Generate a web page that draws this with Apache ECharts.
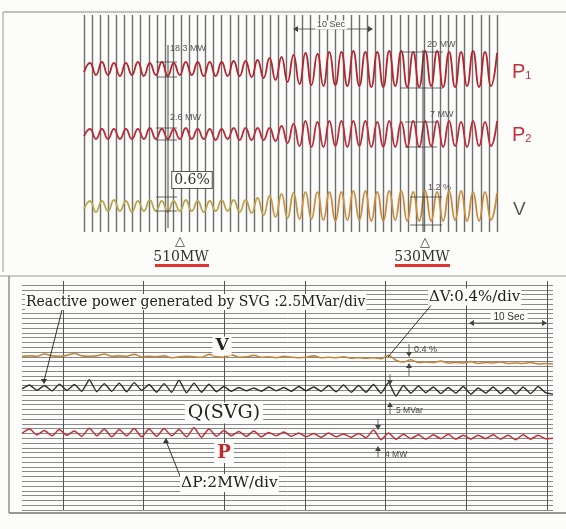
<!DOCTYPE html>
<html><head><meta charset="utf-8">
<script src="https://cdn.jsdelivr.net/npm/echarts@6/dist/echarts.min.js"></script>
<style>html,body{margin:0;padding:0;background:#fcfcfa}#c{width:566px;height:529px}</style>
</head><body><div id="c"></div>
<script>
// ---- Top record: oscillation peaks/troughs (chart units, 1 unit ~ 1 mm of paper), one value per half cycle
const topP1 = [-3, 6, -6, 7, -6, 6, -7, 6, -6, 7,
 -7, 6, -6, 7, -7, 6, -6, 7, -6, 7,
 -7, 7, -7, 7, -7, 8, -7, 8, -8, 9,
 -9, 11, -11, 12, -13, 14, -15, 16, -16, 15,
 -17, 17, -16, 17, -17, 18, -17, 17, -18, 17,
 -18, 18, -17, 18, -18, 17, -18, 18, -17, 18,
 -18, 17, -18, 17, -17, 18, -18, 17, -17, 16];
const topP2 = [-2, 5, -5, 5, -5, 5, -5, 5, -5, 5,
 -5, 6, -5, 5, -5, 5, -5, 6, -5, 5,
 -5, 5, -6, 5, -5, 6, -6, 6, -6, 6,
 -6, 6, -7, 8, -9, 10, -12, 13, -13, 12,
 -13, 13, -12, 13, -13, 13, -12, 13, -13, 12,
 -13, 13, -13, 12, -13, 13, -13, 13, -12, 13,
 -13, 13, -12, 12, -13, 13, -12, 12, -12, 13];
const topV = [-3, 5, -6, 5, -5, 6, -5, 5, -6, 5,
 -5, 6, -5, 5, -6, 5, -5, 6, -5, 5,
 -6, 5, -5, 6, -5, 6, -6, 6, -7, 8,
 -9, 10, -11, 12, -12, 13, -13, 14, -13, 14,
 -14, 14, -15, 14, -14, 15, -14, 15, -15, 14,
 -15, 15, -14, 15, -15, 14, -15, 15, -15, 14,
 -15, 15, -14, 15, -15, 14, -15, 14, -14, 13];
// ---- Bottom record (in chart divisions)
const botV = [32.1, 32.2, 32.1, 32.6, 32.2, 32.1, 32.3, 32.7, 32.2, 32.1,
 32.2, 32.6, 32.1, 32.2, 32.1, 32.5, 32.0, 32.1, 32.0, 32.2,
 31.8, 32.0, 32.1, 32.0, 31.9, 32.5, 32.0, 31.9, 32.4, 31.9,
 32.0, 32.3, 31.9, 32.0, 31.8, 32.1, 31.9, 31.8, 31.9, 32.2,
 31.8, 31.9, 31.8, 32.0, 31.7, 31.8, 31.7, 31.8, 31.6, 32.3,
 31.3, 30.9, 31.4, 30.8, 30.9, 30.8, 31.1, 30.7, 30.8, 30.7,
 31.0, 30.6, 30.8, 30.7, 30.9, 30.6, 30.7, 30.6, 30.8, 30.5,
 30.6, 30.5];
const botQ = [25.3, 26.1, 25.0, 26.0, 24.9, 26.3, 25.0, 26.2, 24.8, 27.2,
 24.7, 26.4, 24.8, 26.5, 24.7, 26.6, 25.0, 26.2, 24.6, 26.4,
 24.6, 27.1, 24.5, 26.5, 24.6, 26.3, 24.7,
 25.8, 24.8, 25.6, 24.9, 25.5, 24.8, 25.7, 24.9, 25.6, 24.8, 25.8, 24.9, 25.7, 24.8,
 26.0, 24.7, 26.1, 24.6, 26.0, 24.6, 26.2, 24.4, 26.6,
 23.8, 26.0, 24.4, 25.9, 24.5, 25.7, 24.3, 25.6, 24.4, 25.8,
 24.2, 25.5, 24.4, 25.7, 24.3, 25.6, 24.2, 25.7, 24.3, 25.8,
 24.5, 24.2];
const botP = [16.0, 16.9, 15.7, 16.6, 15.5, 16.8, 15.6, 16.5, 15.4, 17.1,
 15.5, 16.9, 15.3, 16.8, 15.5, 17.0, 15.3, 16.9, 15.4, 17.0,
 15.5, 16.8, 15.3, 17.2, 15.2, 16.9, 15.4, 16.6, 15.5, 16.4,
 15.4, 16.5, 15.3, 16.2, 15.5, 16.3,
 15.4, 16.1, 15.3, 16.0, 15.2, 16.1, 15.3, 15.9, 15.2, 16.0,
 15.1, 16.7, 14.7, 16.1,
 14.8, 15.8, 14.9, 15.7, 14.8, 15.7, 14.9, 15.8, 14.8, 15.6,
 14.8, 15.6, 14.9, 15.7, 14.8, 15.6, 14.7, 15.7, 14.8, 15.6,
 14.9, 15.0];
const topIdx = topP1.map((_, i) => i);
const botIdx = botQ.map((_, i) => i);

const SERIF = '"DejaVu Serif", "Liberation Serif", serif';
const SANS = '"Liberation Sans", Arial, sans-serif';
const G = [];
function ln(x1, y1, x2, y2, c, w) { G.push({type:'line', z:50, shape:{x1,y1,x2,y2}, style:{stroke:c||'#444', lineWidth:w||1}}); }
function tx(t, x, y, font, opt) { G.push({type:'text', z:60, style:Object.assign({text:t, x, y, font, fill:'#222', textVerticalAlign:'middle'}, opt||{})}); }
function arrowHead(x, y, dir, c) { // dir: 'u','d','l','r'
  const s = 3, pts = dir==='d' ? [[x-s,y-5],[x+s,y-5],[x,y]] : dir==='u' ? [[x-s,y+5],[x+s,y+5],[x,y]] : dir==='l' ? [[x+5,y-s],[x+5,y+s],[x,y]] : [[x-5,y-s],[x-5,y+s],[x,y]];
  G.push({type:'polygon', z:55, shape:{points:pts}, style:{fill:c||'#444'}});
}
// frame lines
ln(3, 12, 566, 12, '#888', 1.2);
ln(3, 12, 3, 272, '#999', 1);
ln(0, 276, 566, 276, '#999', 1.2);
ln(9, 276, 9, 513, '#777', 1.2);
ln(9, 513, 566, 513, '#777', 1.5);
// top annotations
tx('10 Sec', 331, 25, '9px ' + SANS, {textAlign:'center', fill:'#444', backgroundColor:'#fcfcfa', padding:[0,2]});
ln(294, 29, 371, 29, '#444', 0.8); arrowHead(293, 29, 'l'); arrowHead(373, 29, 'r');
ln(168, 45, 168, 228, '#444', 1);
[[62,77],[128,140],[197,211]].forEach(p => { ln(156, p[0], 177, p[0], '#444', 0.8); ln(156, p[1], 177, p[1], '#444', 0.8); });
tx('18.3 MW', 170, 49, '9px ' + SANS, {fill:'#555'});
tx('2.6 MW', 170, 118, '9px ' + SANS, {fill:'#555'});
tx('0.6%', 192, 180, '14px ' + SERIF, {textAlign:'center', fill:'#333', backgroundColor:'#fcfcfa', borderColor:'#555', borderWidth:1, padding:[1,2]});
ln(423, 50, 423, 232, '#444', 1);
[[52,88,400,443],[122,147,405,437],[197,225,410,442]].forEach(p => { ln(p[2], p[0], p[3], p[0], '#444', 0.8); ln(p[2], p[1], p[3], p[1], '#444', 0.8); });
tx('20 MW', 427, 45, '9px ' + SANS, {fill:'#555'});
tx('7 MW', 430, 115, '9px ' + SANS, {fill:'#555'});
tx('1.2 %', 428, 188, '9px ' + SANS, {fill:'#555'});
tx('△', 180, 242, '13px "DejaVu Sans"', {textAlign:'center', fill:'#444'});
tx('△', 425, 243, '13px "DejaVu Sans"', {textAlign:'center', fill:'#444'});
tx('510MW', 181, 257, '14px ' + SERIF, {textAlign:'center', fill:'#333'});
tx('530MW', 422, 257, '14px ' + SERIF, {textAlign:'center', fill:'#333'});
G.push({type:'rect', z:55, shape:{x:155, y:264, width:54, height:3}, style:{fill:'#e03535'}});
G.push({type:'rect', z:55, shape:{x:395, y:264, width:55, height:3}, style:{fill:'#e03535'}});
G.push({type:'text', z:60, style:{text:'{a|P}{b|1}', x:512, y:72, textVerticalAlign:'middle', rich:{a:{font:'20px ' + SANS, fill:'#c0303a'}, b:{font:'11px ' + SANS, fill:'#c0303a', padding:[8,0,0,0]}}}});
G.push({type:'text', z:60, style:{text:'{a|P}{b|2}', x:512, y:135, textVerticalAlign:'middle', rich:{a:{font:'20px ' + SANS, fill:'#c0303a'}, b:{font:'11px ' + SANS, fill:'#c0303a', padding:[8,0,0,0]}}}});
tx('V', 513, 210, '19px ' + SANS, {fill:'#555'});
// bottom annotations
tx('Reactive power generated by SVG :2.5MVar/div', 25, 302, '14px ' + SERIF, {backgroundColor:'#fcfcfa', padding:[1,1]});
tx('ΔV:0.4%/div', 428, 297, '15px ' + SERIF, {backgroundColor:'#fcfcfa', padding:[1,1]});
ln(62, 310, 44, 381, '#333', 1); arrowHead(44, 384, 'd', '#333');
ln(433, 303, 388, 357, '#333', 1);
tx('V', 222, 346, 'bold 17px ' + SERIF, {textAlign:'center', backgroundColor:'#fcfcfa', padding:[1,3]});
tx('0.4 %', 414, 350, '9px ' + SANS, {fill:'#444'});
ln(409, 344, 409, 355, '#444', 0.8); arrowHead(409, 357, 'd');
ln(409, 365, 409, 376, '#444', 0.8); arrowHead(409, 363, 'u');
tx('10 Sec', 509, 317, '10px ' + SANS, {textAlign:'center', fill:'#333', backgroundColor:'#fcfcfa', padding:[0,3]});
ln(470, 323, 546, 323, '#444', 0.8); arrowHead(469, 323, 'l'); arrowHead(547, 323, 'r');
tx('Q(SVG)', 224, 413, '19px ' + SERIF, {textAlign:'center', backgroundColor:'#fcfcfa', padding:[1,3]});
tx('5 MVar', 396, 411, '8.5px ' + SANS, {fill:'#444'});
ln(390, 374, 390, 383, '#444', 0.8); arrowHead(390, 385, 'd');
ln(390, 404, 390, 414, '#444', 0.8); arrowHead(390, 402, 'u');
tx('P', 224, 453, 'bold 18px ' + SERIF, {textAlign:'center', fill:'#c0282d', backgroundColor:'#fcfcfa', padding:[1,3]});
tx('4 MW', 385, 455, '8.5px ' + SANS, {fill:'#444'});
ln(378, 419, 378, 428, '#444', 0.8); arrowHead(378, 430, 'd');
ln(378, 448, 378, 457, '#444', 0.8); arrowHead(378, 446, 'u');
tx('ΔP:2MW/div', 180, 483, '15.5px ' + SERIF, {backgroundColor:'#fcfcfa', padding:[1,1]});
ln(180, 476, 166, 441, '#333', 1); arrowHead(166, 438, 'u', '#333');

const hidden = {show:false};
const gridAxis = (c, w) => ({axisLine:hidden, axisTick:hidden, axisLabel:hidden, splitLine:{show:true, lineStyle:{color:c, width:w}}});
const chart = echarts.init(document.getElementById('c'), null, {renderer:'canvas'});
chart.setOption({
  animation:false,
  backgroundColor:'#fcfcfa',
  grid:[
    {left:84, top:15, width:413, height:217},
    {left:22, top:285, width:531, height:225},
    {left:63, top:281, width:484, height:229}
  ],
  xAxis:[
    Object.assign({gridIndex:0, type:'value', min:0, max:51, interval:1}, gridAxis('#6e6e6e', 1.4)),
    {gridIndex:0, type:'category', data:topIdx, boundaryGap:false, show:false},
    {gridIndex:1, type:'category', data:botIdx, boundaryGap:false, show:false},
    Object.assign({gridIndex:2, type:'value', min:0, max:60, interval:10}, gridAxis('#555', 1))
  ],
  yAxis:[
    {gridIndex:0, type:'value', min:-163, max:54, show:false},
    {gridIndex:0, type:'value', min:-98, max:119, show:false},
    {gridIndex:0, type:'value', min:-26, max:191, show:false},
    Object.assign({gridIndex:1, type:'value', min:0, max:47, interval:1}, gridAxis('#7c7c7c', 0.9)),
    {gridIndex:2, type:'value', min:0, max:1, show:false}
  ],
  series:[
    {type:'line', xAxisIndex:1, yAxisIndex:0, data:topP1, smooth:0.5, symbol:'none', lineStyle:{color:'#b3262d', width:1.8}, z:5},
    {type:'line', xAxisIndex:1, yAxisIndex:1, data:topP2, smooth:0.5, symbol:'none', lineStyle:{color:'#b82d38', width:1.8}, z:5},
    {type:'line', xAxisIndex:1, yAxisIndex:2, data:topV, smooth:0.5, symbol:'none', z:5,
      lineStyle:{width:1.8, color:{type:'linear', x:0, y:0, x2:1, y2:0, colorStops:[{offset:0, color:'#b5aa50'}, {offset:0.4, color:'#bfa24a'}, {offset:0.6, color:'#cf8a3c'}, {offset:1, color:'#c98a3a'}]}}},
    {type:'line', xAxisIndex:2, yAxisIndex:3, data:botV, smooth:0.3, symbol:'none', lineStyle:{color:'#c2873c', width:1.6}, z:5},
    {type:'line', xAxisIndex:2, yAxisIndex:3, data:botQ, smooth:0.15, symbol:'none', lineStyle:{color:'#2e2e2e', width:1.4}, z:5},
    {type:'line', xAxisIndex:2, yAxisIndex:3, data:botP, smooth:0.2, symbol:'none', lineStyle:{color:'#c0303a', width:1.5}, z:5}
  ],
  graphic:G
});
</script></body></html>
